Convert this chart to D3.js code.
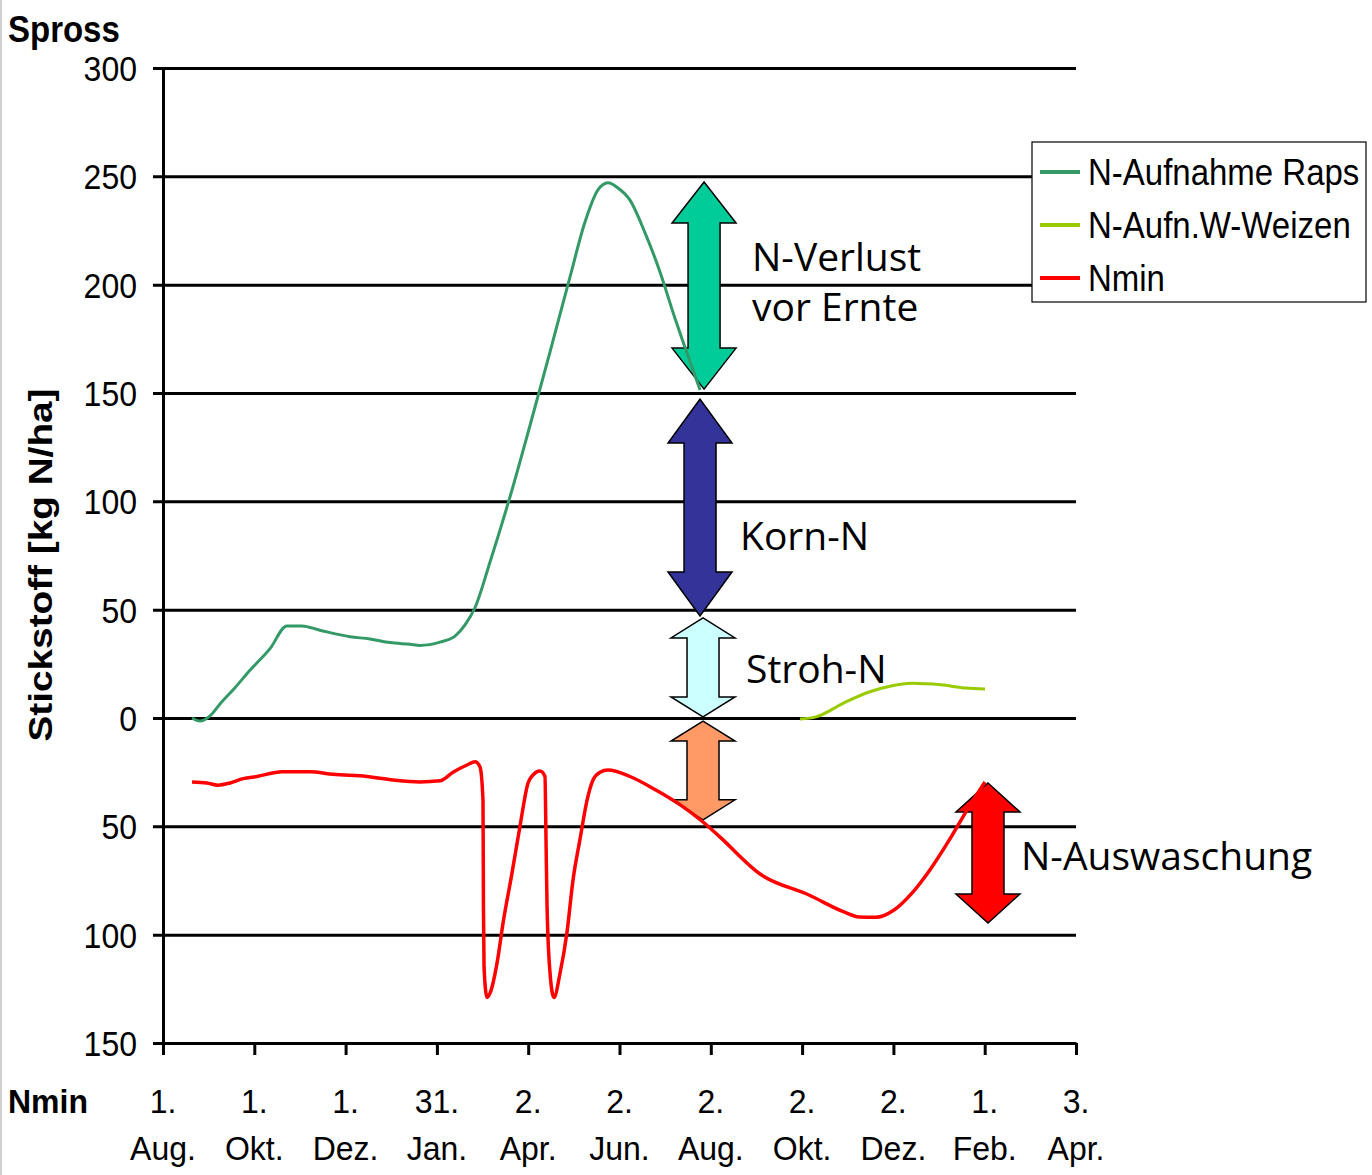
<!DOCTYPE html>
<html>
<head>
<meta charset="utf-8">
<script src="https://cdn.jsdelivr.net/npm/d3@7"></script>
<style>
  body { margin: 0; background: #fff; }
  svg { display: block; font-family: "Liberation Sans", Arial, sans-serif; }
</style>
</head>
<body>
<div id="graf"></div>
<script>
// Stickstoff-Dynamik Raps / Weizen
//

// tage seit 1. Aug. -> [tag, kg N/ha]
raps = [
  [19.4, 0], [24.7, -1.4], [31.4, 1], [38.1, 6.5], [48.1, 14], [58.1, 22],
  [71.5, 32], [82.8, 42.5], [92.9, 42.5], [104.9, 40.5], [124.9, 37.5],
  [138.3, 36.5], [151.7, 34.8], [165, 34], [171.7, 33.5], [185.1, 35],
  [195.1, 37.8], [201.8, 43], [208.5, 51], [218.5, 72], [231.8, 102],
  [245.2, 135], [258.6, 169], [271.9, 203.5], [282, 229], [290.6, 243.7],
  [297.3, 247], [304, 244.6], [312, 239], [322, 224], [332, 206],
  [342, 184.6], [348.8, 171], [358.8, 151.4]
]
weizen = [
  [425.6, -0.5], [436.3, 0.5], [455, 7], [471.7, 12], [486.4, 14.8],
  [500.4, 16], [519.8, 15.3], [536.5, 13.8], [549.2, 13.4]
]
nmin = [
  [19.4, -29.5], [29.4, -30], [36.7, -31], [44.8, -30], [53.5, -28],
  [62.8, -27], [79.5, -24.8], [98.2, -24.8], [113.6, -26], [136.3, -27],
  [153.7, -28.6], [171.7, -29.5], [185.1, -29], [193.8, -25], [203.1, -21.7],
  [208.5, -20.2], [211.8, -22.6], [213.8, -38], [214.1, -87], [214.5, -115],
  [216.5, -129], [218.5, -127], [223.2, -113], [227.2, -94.6], [233.2, -71.5],
  [238.5, -50], [243.9, -30], [247.2, -26.3], [251.9, -24.5], [255.2, -27],
  [255.9, -56], [256.6, -87], [258.6, -117.7], [261.2, -129], [265.3, -117.7],
  [269.9, -99], [273.9, -75], [278.6, -56], [283.3, -38], [287.3, -28.6],
  [292, -25], [297.3, -24], [312, -27], [328.7, -33], [345.4, -40],
  [360.8, -48], [372.2, -55], [398.9, -72], [431.6, -81.7], [455, -89.5],
  [465, -91.8], [476.4, -92], [488.4, -88.6], [500.4, -80.8], [512.5, -70],
  [526.5, -55], [538.5, -41], [549.2, -29.5]
]

seriesNames = ['N-Aufnahme Raps', 'N-Aufn.W-Weizen', 'Nmin']

xTicks = [0, 61, 122, 183, 244, 305, 366, 427, 488, 549, 610]
xTickTag = ['1.', '1.', '1.', '31.', '2.', '2.', '2.', '2.', '2.', '1.', '3.']
xTickMonat = ['Aug.', 'Okt.', 'Dez.', 'Jan.', 'Apr.', 'Jun.', 'Aug.', 'Okt.', 'Dez.', 'Feb.', 'Apr.']
yTicks = [-150, -100, -50, 0, 50, 100, 150, 200, 250, 300]

// pfeile: [text, tag, von, bis]
pfeile = [
  ['N-Verlust', 361.5, 247.4, 151.8],
  ['Korn-N', 358.8, 147.2, 47.1],
  ['Stroh-N', 360.8, 46.2, 0.5],
  ['Stroh', 360.8, -1.4, -47],
  ['N-Auswaschung', 551.2, -30, -94.6]
]

// farben / stil
farben = ['#339966', '#99cc00', '#ff0000']
pfeilStil = {
  'N-Verlust': { fill: '#00cc99', head: 41 },
  'Korn-N': { fill: '#333399', head: 44 },
  'Stroh-N': { fill: '#ccffff', head: 20 },
  'Stroh': { fill: '#ff9966', head: 20 },
  'N-Auswaschung': { fill: '#ff0000', head: 29 }
}

ancho_total = 1372
alto_total = 1175
margins = { top: 68, left: 163, right: 296, bottom: 132 }
ancho = ancho_total - margins.left - margins.right
alto = alto_total - margins.top - margins.bottom

svg = d3.select('#graf').append('svg')
  .attr('width', ancho_total)
  .attr('height', alto_total)

svg.append('rect').attr('width', ancho_total).attr('height', alto_total).attr('fill', '#fff')
// grauer rand links
svg.append('line').attr('x1', 1).attr('x2', 1).attr('y1', 0).attr('y2', alto_total)
  .attr('stroke', '#d0d0d0').attr('stroke-width', 2)

g = svg.append('g').attr('transform', `translate(${margins.left}, ${margins.top})`)

x = d3.scaleLinear().domain([0, 610]).range([0, ancho])
y = d3.scaleLinear().domain([-150, 300]).range([alto, 0])

// text mit leichter vertikaler streckung
function stretch(sel, tx, ty, k) {
  sel.attr('transform', `translate(${tx}, ${ty}) scale(1, ${k})`)
}

// y-achse + gitter
yAxis = g.append('g')
  .call(d3.axisLeft(y).tickValues(yTicks).tickSize(-ancho).tickSizeOuter(0)
    .tickPadding(26).tickFormat(d => Math.abs(d)))
yAxis.select('.domain').attr('stroke', '#000').attr('stroke-width', 3)
yAxis.selectAll('.tick line').attr('x1', -10).attr('stroke', '#000').attr('stroke-width', 3)
yAxis.selectAll('.tick text')
  .attr('font-size', 32).attr('font-family', '"Liberation Sans", Arial, sans-serif')
  .attr('fill', '#000').attr('dy', null).attr('x', null)
  .each(function() { stretch(d3.select(this), -26, 12.5, 1.08) })

// x-achse
xAxis = g.append('g').attr('transform', `translate(0, ${alto})`)
  .call(d3.axisBottom(x).tickValues(xTicks).tickSize(12).tickSizeOuter(0).tickFormat(''))
xAxis.select('.domain').attr('stroke', '#000').attr('stroke-width', 3)
xAxis.selectAll('.tick line').attr('stroke', '#000').attr('stroke-width', 3)

xLab = g.append('g').attr('font-size', 32).attr('text-anchor', 'middle')
xTicks.forEach((t, i) => {
  xLab.append('text').text(xTickTag[i]).call(stretch, x(t), alto + 70, 1.06)
  xLab.append('text').text(xTickMonat[i]).call(stretch, x(t), alto + 117, 1.06)
})

// pfeile
function pfeilPfad(cx, y0, y1, hl) {
  hw = 32
  sw = 16
  return `M${cx},${y0} L${cx + hw},${y0 + hl} L${cx + sw},${y0 + hl} L${cx + sw},${y1 - hl}` +
    ` L${cx + hw},${y1 - hl} L${cx},${y1} L${cx - hw},${y1 - hl} L${cx - sw},${y1 - hl}` +
    ` L${cx - sw},${y0 + hl} L${cx - hw},${y0 + hl} Z`
}
g.selectAll('.pfeil').data(pfeile).join('path')
  .attr('class', 'pfeil')
  .attr('d', d => pfeilPfad(x(d[1]), y(d[2]), y(d[3]), pfeilStil[d[0]].head))
  .attr('fill', d => pfeilStil[d[0]].fill)
  .attr('stroke', '#000')
  .attr('stroke-width', 1.5)

// linien
lineaGen = d3.line()
  .x(d => x(d[0]))
  .y(d => y(d[1]))
  .curve(d3.curveMonotoneX)

;[raps, weizen, nmin].forEach((s, i) => {
  g.append('path')
    .attr('d', lineaGen(s))
    .attr('fill', 'none')
    .attr('stroke', farben[i])
    .attr('stroke-width', i == 2 ? 3.5 : 3)
    .attr('stroke-linejoin', 'round')
})

// beschriftung der pfeile
anno = svg.append('g').attr('font-family', '"Open Sans", sans-serif').attr('font-size', 39).attr('fill', '#000')
anno.append('text').text('N-Verlust').attr('x', 752).attr('y', 271)
anno.append('text').text('vor Ernte').attr('x', 752).attr('y', 321)
anno.append('text').text('Korn-N').attr('x', 740).attr('y', 550)
anno.append('text').text('Stroh-N').attr('x', 746).attr('y', 683)
anno.append('text').text('N-Auswaschung').attr('x', 1021).attr('y', 870)

// legende
leg = svg.append('g').attr('transform', 'translate(1032, 142)')
leg.append('rect').attr('width', 334).attr('height', 160)
  .attr('fill', '#fff').attr('stroke', '#000').attr('stroke-width', 1.2)
seriesNames.forEach((n, i) => {
  yy = 30 + i * 53
  leg.append('line').attr('x1', 8).attr('x2', 48).attr('y1', yy).attr('y2', yy)
    .attr('stroke', farben[i]).attr('stroke-width', 4)
  leg.append('text').text(n).attr('font-size', 33).call(stretch, 56, yy + 13, 1.1)
})

// titel
svg.append('text').text('Spross').attr('font-size', 33).attr('font-weight', 'bold')
  .call(stretch, 8, 42, 1.12)
svg.append('text').text('Nmin').attr('font-size', 32).attr('font-weight', 'bold')
  .call(stretch, 8, 1113, 1.06)
svg.append('text').text('Stickstoff [kg N/ha]').attr('font-size', 34).attr('font-weight', 'bold')
  .attr('text-anchor', 'middle')
  .attr('transform', 'translate(52, 565) scale(1, 1.14) rotate(-90)')
</script>
</body>
</html>
